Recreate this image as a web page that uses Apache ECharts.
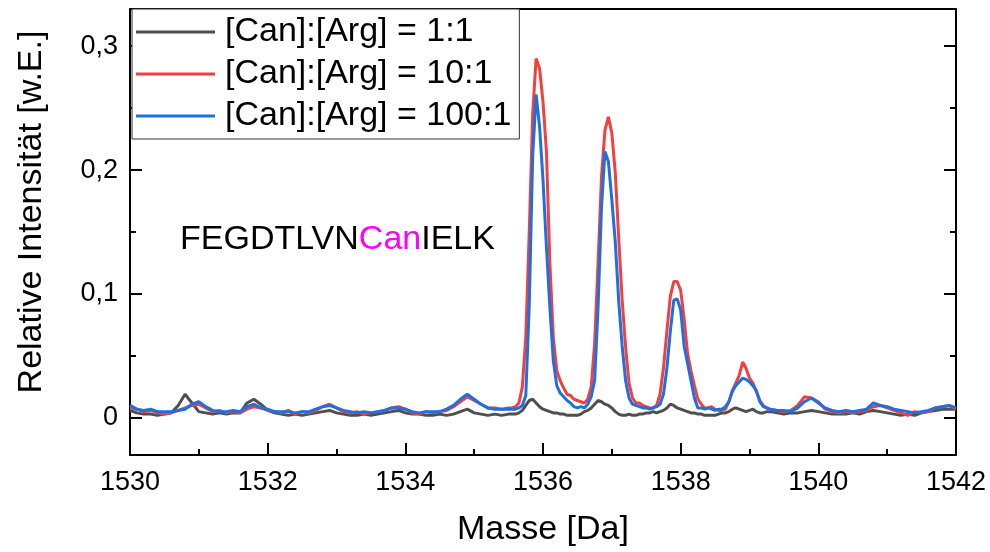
<!DOCTYPE html>
<html>
<head>
<meta charset="utf-8">
<script src="https://cdn.jsdelivr.net/npm/echarts@6/dist/echarts.min.js"></script>
<style>
html, body { margin: 0; padding: 0; background: #fff; }
#chart { width: 990px; height: 552px; }
</style>
</head>
<body>
<div id="chart"></div>
<script>
// Mass axis sample points [Da]
const masses = [
  1530, 1530.1, 1530.2, 1530.3, 1530.4, 1530.5, 1530.6, 1530.7, 1530.8, 1530.9,
  1531, 1531.1, 1531.2, 1531.3, 1531.4, 1531.5, 1531.6, 1531.7, 1531.8, 1531.9,
  1532, 1532.1, 1532.2, 1532.3, 1532.4, 1532.5, 1532.6, 1532.7, 1532.8, 1532.9,
  1533, 1533.1, 1533.2, 1533.3, 1533.4, 1533.5, 1533.6, 1533.7, 1533.8, 1533.9,
  1534, 1534.1, 1534.2, 1534.3, 1534.4, 1534.5, 1534.6, 1534.7, 1534.8, 1534.9,
  1535, 1535.1, 1535.2, 1535.3, 1535.4, 1535.5,
  1535.55, 1535.6, 1535.65, 1535.7, 1535.75, 1535.8, 1535.85, 1535.9, 1535.95, 1536,
  1536.05, 1536.1, 1536.15, 1536.2, 1536.25, 1536.3, 1536.35, 1536.4, 1536.45, 1536.5,
  1536.55, 1536.6, 1536.65, 1536.7, 1536.75, 1536.8, 1536.85, 1536.9, 1536.95, 1537,
  1537.05, 1537.1, 1537.15, 1537.2, 1537.25, 1537.3, 1537.35, 1537.4, 1537.45, 1537.5,
  1537.55, 1537.6, 1537.65, 1537.7, 1537.75, 1537.8, 1537.85, 1537.9, 1537.95, 1538,
  1538.05, 1538.1, 1538.15, 1538.2, 1538.25, 1538.3, 1538.35, 1538.4, 1538.45, 1538.5,
  1538.55, 1538.6, 1538.65, 1538.7, 1538.75, 1538.8, 1538.85, 1538.9, 1538.95, 1539,
  1539.05, 1539.1, 1539.15, 1539.2, 1539.25, 1539.3,
  1539.4, 1539.5, 1539.6, 1539.7, 1539.8, 1539.9, 1540, 1540.1, 1540.2, 1540.3,
  1540.4, 1540.5, 1540.6, 1540.7, 1540.8, 1540.9, 1541, 1541.1, 1541.2, 1541.3,
  1541.4, 1541.5, 1541.6, 1541.7, 1541.8, 1541.9, 1542
];

// Relative intensity, [Can]:[Arg] = 1:1
const ratio1 = [
  0.006, 0.004, 0.003, 0.003, 0.002, 0.003, 0.004, 0.010, 0.019, 0.012,
  0.005, 0.004, 0.003, 0.004, 0.003, 0.004, 0.004, 0.012, 0.015, 0.011,
  0.006, 0.004, 0.003, 0.002, 0.003, 0.002, 0.003, 0.004, 0.005, 0.006,
  0.004, 0.003, 0.002, 0.002, 0.003, 0.002, 0.003, 0.004, 0.005, 0.006,
  0.004, 0.003, 0.003, 0.002, 0.002, 0.003, 0.002, 0.003, 0.005, 0.007,
  0.004, 0.003, 0.002, 0.003, 0.002, 0.003,
  0.003, 0.003, 0.004, 0.006, 0.010, 0.014, 0.015, 0.012, 0.009, 0.007,
  0.006, 0.005, 0.004, 0.004, 0.003, 0.003, 0.002, 0.002, 0.002, 0.002,
  0.003, 0.005, 0.006, 0.008, 0.011, 0.014, 0.013, 0.011, 0.010, 0.008,
  0.005, 0.003, 0.002, 0.002, 0.003, 0.002, 0.002, 0.003, 0.003, 0.004,
  0.004, 0.005, 0.004, 0.005, 0.006, 0.008, 0.011, 0.010, 0.008, 0.007,
  0.006, 0.005, 0.004, 0.004, 0.003, 0.003, 0.002, 0.002, 0.002, 0.002,
  0.003, 0.004, 0.004, 0.005, 0.007, 0.008, 0.007, 0.006, 0.005, 0.006,
  0.007, 0.005, 0.004, 0.004, 0.005, 0.005,
  0.004, 0.003, 0.004, 0.004, 0.005, 0.006, 0.005, 0.004, 0.003, 0.003,
  0.003, 0.004, 0.003, 0.005, 0.006, 0.005, 0.004, 0.003, 0.002, 0.003,
  0.002, 0.004, 0.005, 0.006, 0.007, 0.007, 0.007
];

// Relative intensity, [Can]:[Arg] = 10:1
const ratio10 = [
  0.008, 0.007, 0.005, 0.006, 0.004, 0.003, 0.004, 0.006, 0.008, 0.010,
  0.011, 0.008, 0.005, 0.006, 0.004, 0.005, 0.004, 0.007, 0.009, 0.008,
  0.006, 0.005, 0.004, 0.006, 0.003, 0.005, 0.004, 0.006, 0.009, 0.011,
  0.008, 0.005, 0.004, 0.005, 0.003, 0.004, 0.005, 0.006, 0.008, 0.009,
  0.007, 0.004, 0.003, 0.005, 0.004, 0.005, 0.006, 0.009, 0.013, 0.017,
  0.014, 0.011, 0.008, 0.008, 0.007, 0.008,
  0.008, 0.009, 0.012, 0.025, 0.065, 0.150, 0.245, 0.290, 0.282, 0.255,
  0.215, 0.125, 0.065, 0.038, 0.030, 0.024, 0.019, 0.018, 0.015, 0.014,
  0.013, 0.012, 0.015, 0.025, 0.060, 0.125, 0.195, 0.232, 0.243, 0.230,
  0.198, 0.145, 0.095, 0.057, 0.028, 0.016, 0.012, 0.012, 0.010, 0.009,
  0.008, 0.008, 0.010, 0.019, 0.040, 0.070, 0.098, 0.110, 0.110, 0.103,
  0.080, 0.052, 0.038, 0.026, 0.015, 0.011, 0.008, 0.008, 0.009, 0.007,
  0.006, 0.006, 0.007, 0.013, 0.022, 0.028, 0.034, 0.045, 0.040, 0.032,
  0.028, 0.021, 0.014, 0.010, 0.008, 0.007,
  0.006, 0.005, 0.006, 0.010, 0.017, 0.016, 0.013, 0.007, 0.005, 0.004,
  0.005, 0.004, 0.005, 0.006, 0.009, 0.010, 0.008, 0.006, 0.004, 0.002,
  0.005, 0.004, 0.005, 0.008, 0.009, 0.010, 0.007
];

// Relative intensity, [Can]:[Arg] = 100:1
const ratio100 = [
  0.010, 0.007, 0.006, 0.007, 0.005, 0.005, 0.005, 0.006, 0.007, 0.011,
  0.013, 0.009, 0.006, 0.005, 0.005, 0.006, 0.005, 0.009, 0.011, 0.008,
  0.007, 0.005, 0.005, 0.005, 0.004, 0.005, 0.005, 0.007, 0.009, 0.010,
  0.008, 0.006, 0.005, 0.004, 0.005, 0.004, 0.005, 0.006, 0.008, 0.008,
  0.007, 0.005, 0.004, 0.005, 0.005, 0.005, 0.007, 0.010, 0.015, 0.019,
  0.015, 0.011, 0.008, 0.007, 0.007, 0.007,
  0.007, 0.007, 0.008, 0.010, 0.018, 0.090, 0.211, 0.261, 0.235, 0.192,
  0.138, 0.089, 0.046, 0.026, 0.020, 0.017, 0.014, 0.012, 0.009, 0.008,
  0.009, 0.008, 0.011, 0.017, 0.030, 0.089, 0.170, 0.215, 0.207, 0.176,
  0.142, 0.094, 0.058, 0.030, 0.016, 0.011, 0.010, 0.009, 0.008, 0.008,
  0.007, 0.008, 0.009, 0.011, 0.019, 0.040, 0.070, 0.095, 0.096, 0.087,
  0.058, 0.044, 0.030, 0.016, 0.008, 0.008, 0.007, 0.008, 0.007, 0.006,
  0.007, 0.007, 0.009, 0.013, 0.021, 0.026, 0.029, 0.032, 0.031, 0.029,
  0.026, 0.022, 0.013, 0.009, 0.008, 0.007,
  0.006, 0.006, 0.005, 0.008, 0.013, 0.016, 0.012, 0.008, 0.006, 0.005,
  0.006, 0.005, 0.006, 0.007, 0.012, 0.010, 0.009, 0.007, 0.006, 0.005,
  0.004, 0.005, 0.006, 0.008, 0.009, 0.010, 0.008
];

const seriesNames = ['[Can]:[Arg] = 1:1', '[Can]:[Arg] = 10:1', '[Can]:[Arg] = 100:1'];
const seriesColors = ['#4f4f4f', '#f43f3f', '#1e6fe0'];
const yMajorTicks = [0, 0.1, 0.2, 0.3];
const yMinorTicks = [0.05, 0.15, 0.25];
const xTitle = 'Masse [Da]';
const yTitle = 'Relative Intensität [w.E.]';

const FONT = '"Liberation Sans", Arial, sans-serif';
const BLACK = '#000';

const chart = echarts.init(document.getElementById('chart'), null, { renderer: 'canvas' });

function yAxisDef(position, ticks, len, withLine, withLabels) {
  return {
    type: 'value', position: position, min: -0.03, max: 0.33,
    splitLine: { show: false },
    axisLine: { show: withLine, onZero: false, lineStyle: { color: BLACK, width: 2 } },
    axisTick: { show: true, inside: true, length: len, customValues: ticks,
                lineStyle: { color: BLACK, width: 2 } },
    axisLabel: withLabels ? {
      show: true, customValues: ticks, margin: 12,
      fontSize: 27, fontFamily: FONT, color: BLACK,
      formatter: v => String(v).replace('.', ',')
    } : { show: false }
  };
}

const toPairs = arr => masses.map((m, i) => [m, arr[i]]);
const values = [ratio1, ratio10, ratio100];

chart.setOption({
  animation: false,
  backgroundColor: '#fff',
  grid: { left: 130, right: 34, top: 9, bottom: 97, containLabel: false },
  legend: {
    show: true, orient: 'vertical', left: 132, top: 9,
    icon: 'rect',
    padding: [5, 8, 5, 4], itemGap: 6, itemWidth: 79, itemHeight: 3,
    borderColor: '#333', borderWidth: 1, backgroundColor: '#fff',
    textStyle: { fontSize: 34, fontFamily: FONT, color: BLACK, lineHeight: 36, padding: [0, 0, 0, 5] },
    data: seriesNames
  },
  xAxis: [
    {
      type: 'value', position: 'bottom', min: 1530, max: 1542, interval: 2,
      splitLine: { show: false },
      axisLine: { show: true, onZero: false, lineStyle: { color: BLACK, width: 2 } },
      axisTick: { show: true, inside: true, length: 12, lineStyle: { color: BLACK, width: 2 } },
      minorTick: { show: true, splitNumber: 2, length: 6, lineStyle: { color: BLACK, width: 2 } },
      axisLabel: { fontSize: 27, fontFamily: FONT, color: BLACK, margin: 14,
                   formatter: v => String(v) }
    },
    {
      type: 'value', position: 'top', min: 1530, max: 1542,
      splitLine: { show: false },
      axisLine: { show: true, onZero: false, lineStyle: { color: BLACK, width: 2 } },
      axisTick: { show: false }, axisLabel: { show: false }
    }
  ],
  yAxis: [
    yAxisDef('left', yMajorTicks, 12, true, true),
    yAxisDef('left', yMinorTicks, 6, false, false),
    yAxisDef('right', yMajorTicks, 12, true, false),
    yAxisDef('right', yMinorTicks, 6, false, false)
  ],
  series: seriesNames.map((name, k) => ({
    name: name, type: 'line', xAxisIndex: 0, yAxisIndex: 0,
    data: toPairs(values[k]), symbol: 'none', showSymbol: false,
    lineStyle: { color: seriesColors[k], width: 3 },
    itemStyle: { color: seriesColors[k] },
    z: 2 + k
  })),
  graphic: [
    {
      type: 'text', x: 543, y: 530,
      style: { text: xTitle, fontSize: 34, fontFamily: FONT, fill: BLACK,
               textAlign: 'center', textVerticalAlign: 'middle' }
    },
    {
      type: 'text', x: 32, y: 212, rotation: Math.PI / 2,
      style: { text: yTitle, fontSize: 34, fontFamily: FONT, fill: BLACK,
               textAlign: 'center', textVerticalAlign: 'middle' }
    },
    {
      type: 'text', x: 180, y: 240,
      style: {
        text: '{k|FEGDTLVN}{c|Can}{k|IELK}',
        textVerticalAlign: 'middle',
        rich: {
          k: { fontSize: 34, fontFamily: FONT, fill: BLACK, color: BLACK },
          c: { fontSize: 34, fontFamily: FONT, fill: '#ff00ff', color: '#ff00ff' }
        }
      }
    }
  ]
});
</script>
</body>
</html>
